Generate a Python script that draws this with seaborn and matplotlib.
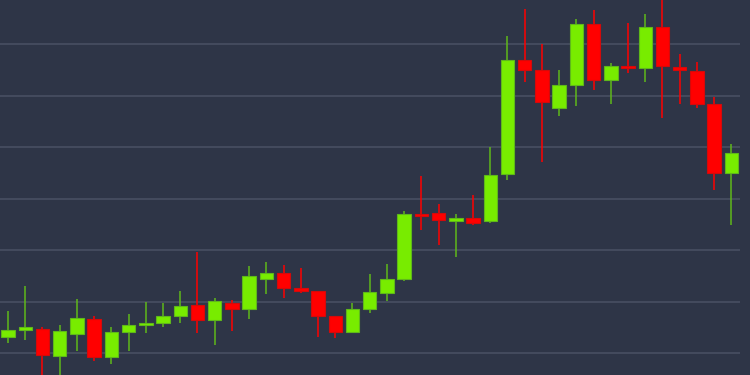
import numpy as np
import pandas as pd
import matplotlib
matplotlib.use("Agg")
import matplotlib.pyplot as plt
import seaborn as sns

# candle values (arbitrary price units)
opens = [37.7, 45, 45.7, 19.3, 41.3, 56.3, 18.3, 43.3, 50.3, 51.7, 58.7, 70, 55, 72, 65.7,
         96.3, 101.7, 87, 84.3, 59, 43.3, 65.7, 82.3, 96, 161, 161.7, 154.3, 157.3, 154,
         200.7, 314.7, 305, 267.3, 290, 351, 294.7, 309, 307.3, 348.3, 307.7, 304.3, 270.7, 202.3]
highs = [64, 89, 48.3, 50, 75.7, 59, 48, 61, 73, 71.7, 83.7, 123, 77, 75, 109,
         112.7, 109.7, 107, 84.5, 59, 72, 101, 111, 164.3, 198.7, 171.3, 160.7, 180, 228,
         339.3, 366, 331.3, 305, 356.3, 365, 312, 352, 360.7, 378, 321, 313.3, 278.3, 231]
lows = [31.7, 35, -3, -4, 24, 14, 10.7, 23.7, 42.3, 48, 52, 42.3, 30, 44, 55.7,
        80.7, 77.3, 82.3, 38, 37.3, 41.7, 62.3, 74.3, 94.3, 145.3, 130, 118, 150, 152,
        195, 293, 213.3, 259.3, 268.7, 285, 270.7, 302.3, 293, 257, 271.3, 267.3, 185.3, 150.3]
closes = [45, 48, 19.7, 44, 56.7, 18.3, 43.3, 49.7, 52, 58.7, 68.7, 55, 73.7, 66, 99,
          101.7, 87.3, 84.3, 59.3, 43.3, 65.7, 82.7, 96, 161.3, 159.3, 154.7, 157.3, 152.3, 200.3,
          314.7, 305.3, 273.3, 289.7, 351, 294.7, 309, 307, 348.3, 309.3, 304.7, 271, 202.3, 221.7]

df = pd.DataFrame({"open": opens, "high": highs, "low": lows, "close": closes})
df["idx"] = np.arange(len(df))
df["up"] = df["close"] >= df["open"]

bg = "#2e3547"
green = "#78ec00"
green_edge = "#5fb81a"
red = "#ff0000"
red_edge = "#d40a0a"

sns.set_style("dark", {"axes.facecolor": bg, "figure.facecolor": bg})

fig = plt.figure(figsize=(7.5, 3.75), dpi=100)
ax = fig.add_axes([0, 0, 740 / 750, 1])
ax.set_facecolor(bg)
fig.patch.set_facecolor(bg)

# horizontal grid
for gy in np.arange(22, 375, 51.5):
    ax.axhline(gy, color="#4a5164", lw=1.1, zorder=0)

for up, col, ecol in [(True, green, green_edge), (False, red, red_edge)]:
    d = df[df["up"] == up]
    ax.vlines(d["idx"], d["low"], d["high"], color=ecol if up else red, lw=1.1, zorder=1)
    body_lo = np.minimum(d["open"], d["close"])
    body_h = np.maximum(np.abs(d["close"] - d["open"]), 1.8)
    ax.bar(d["idx"], body_h, bottom=body_lo, width=0.78, color=col,
           edgecolor=ecol, linewidth=0.8, zorder=2)

ax.set_xlim(-0.465, 42.5)
ax.set_ylim(0, 375)
ax.set_xticks([])
ax.set_yticks([])
for s in ax.spines.values():
    s.set_visible(False)

fig.savefig("out.png", dpi=100, facecolor=bg)
